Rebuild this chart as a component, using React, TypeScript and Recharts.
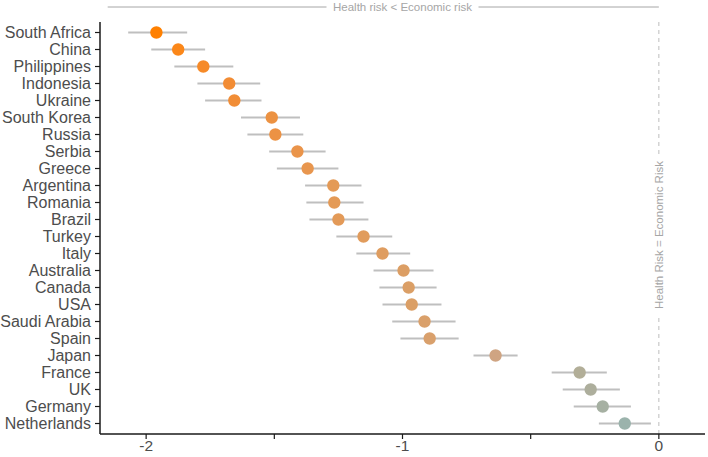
import { ErrorBar, ReferenceLine, Scatter, ScatterChart, XAxis, YAxis } from "recharts";

const countries = [
  "South Africa", "China", "Philippines", "Indonesia", "Ukraine", "South Korea", "Russia", "Serbia",
  "Greece", "Argentina", "Romania", "Brazil", "Turkey", "Italy", "Australia", "Canada", "USA",
  "Saudi Arabia", "Spain", "Japan", "France", "UK", "Germany", "Netherlands",
];

const estimates = [
  -1.96, -1.875, -1.777, -1.676, -1.656, -1.51, -1.496, -1.41, -1.37, -1.27, -1.266, -1.25,
  -1.152, -1.078, -0.996, -0.976, -0.964, -0.914, -0.894, -0.637, -0.309, -0.266, -0.219, -0.133,
];

const lower = [
  -2.07, -1.98, -1.89, -1.8, -1.77, -1.63, -1.605, -1.52, -1.49, -1.38, -1.375, -1.363,
  -1.258, -1.18, -1.113, -1.09, -1.078, -1.04, -1.008, -0.723, -0.418, -0.375, -0.332, -0.234,
];

const upper = [
  -1.84, -1.77, -1.66, -1.555, -1.55, -1.4, -1.387, -1.3, -1.25, -1.16, -1.152, -1.133,
  -1.04, -0.97, -0.879, -0.867, -0.848, -0.793, -0.781, -0.551, -0.203, -0.152, -0.109, -0.031,
];

const dotColors = [
  "#FF8000", "#FB8719", "#F68A28", "#F28C34", "#F18D36", "#EC9242", "#EC9244", "#EA944A",
  "#E8964E", "#E49A56", "#E49A56", "#E39A58", "#E19C5C", "#DF9D60", "#DC9E64", "#DB9F66",
  "#DB9F66", "#DAA06A", "#D9A06C", "#CFA482", "#B2AE98", "#ADAE9C", "#A6B0A2", "#9BB3AC",
];

const xTicks = [-2, -1.5, -1, -0.5, 0];
const xDomain: [number, number] = [-2.18, 0.18];

const W = 708;
const H = 457;
const PLOT_LEFT = 100;
const PLOT_RIGHT = 705;
const PLOT_TOP = 22;
const PLOT_BOTTOM = 434;

const data = countries.map((country, i) => ({
  country,
  value: estimates[i],
  color: dotColors[i],
  err: [estimates[i] - lower[i], upper[i] - estimates[i]],
}));

// pixel position of an x value, for the header annotation above the plot
const toPx = (v: number) =>
  PLOT_LEFT + ((v - xDomain[0]) / (xDomain[1] - xDomain[0])) * (PLOT_RIGHT - PLOT_LEFT);

const font = "'Liberation Sans', Arial, sans-serif";

function Dot(props: any) {
  const { cx, cy, payload } = props;
  if (cx == null || cy == null) return null;
  return <circle cx={cx} cy={cy} r={6.2} fill={payload.color} />;
}

function EqualRiskLabel(props: any) {
  const vb = props.viewBox || {};
  const cx = vb.x;
  const cy = vb.y + vb.height / 2 + 7;
  return (
    <g>
      <rect x={cx - 8} y={cy - 80} width={16} height={160} fill="#fff" />
      <text
        x={cx}
        y={cy}
        transform={`rotate(-90 ${cx} ${cy})`}
        textAnchor="middle"
        dominantBaseline="central"
        fontSize={11.5}
        fill="#A6A6A6"
        fontFamily={font}
      >
        Health Risk = Economic Risk
      </text>
    </g>
  );
}

export default function App() {
  const textMid = toPx(-1);
  return (
    <div style={{ position: "absolute", left: 0, top: 0, width: W, height: H, background: "#fff" }}>
      <ScatterChart
        width={W}
        height={H}
        margin={{ top: PLOT_TOP, right: W - PLOT_RIGHT, bottom: 0, left: 0 }}
        style={{ fontFamily: font }}
      >
        <XAxis
          type="number"
          dataKey="value"
          domain={xDomain}
          ticks={xTicks}
          allowDataOverflow
          height={H - PLOT_BOTTOM}
          tickFormatter={(v: number) => (Number.isInteger(v) ? String(v) : "")}
          tick={{ fill: "#4D4D4D", fontSize: 15.5 }}
          tickSize={5}
          tickMargin={1}
          axisLine={{ stroke: "#1a1a1a", strokeWidth: 1.5 }}
          tickLine={{ stroke: "#1a1a1a", strokeWidth: 1.2 }}
        />
        <YAxis
          type="category"
          dataKey="country"
          width={PLOT_LEFT}
          reversed
          padding={{ top: 2, bottom: 2 }}
          interval={0}
          tick={{ fill: "#4D4D4D", fontSize: 16 }}
          tickSize={5}
          tickMargin={4}
          axisLine={{ stroke: "#1a1a1a", strokeWidth: 1.5 }}
          tickLine={{ stroke: "#1a1a1a", strokeWidth: 1.2 }}
        />
        <ReferenceLine
          x={0}
          stroke="#BDBDBD"
          strokeDasharray="4 4"
          label={<EqualRiskLabel />}
        />
        <Scatter data={data} shape={<Dot />} isAnimationActive={false}>
          <ErrorBar dataKey="err" direction="x" width={0} stroke="#BFBFBF" strokeWidth={1.8} />
        </Scatter>
      </ScatterChart>
      <svg
        width={W}
        height={PLOT_TOP}
        style={{ position: "absolute", left: 0, top: 0, pointerEvents: "none" }}
      >
        <line x1={toPx(-2.15)} x2={textMid - 76} y1={7} y2={7} stroke="#A6A6A6" strokeWidth={1} />
        <line x1={textMid + 76} x2={toPx(0)} y1={7} y2={7} stroke="#A6A6A6" strokeWidth={1} />
        <text
          x={textMid}
          y={7}
          textAnchor="middle"
          dominantBaseline="central"
          fontSize={11.5}
          fill="#A6A6A6"
          fontFamily={font}
        >
          Health risk &lt; Economic risk
        </text>
      </svg>
    </div>
  );
}
